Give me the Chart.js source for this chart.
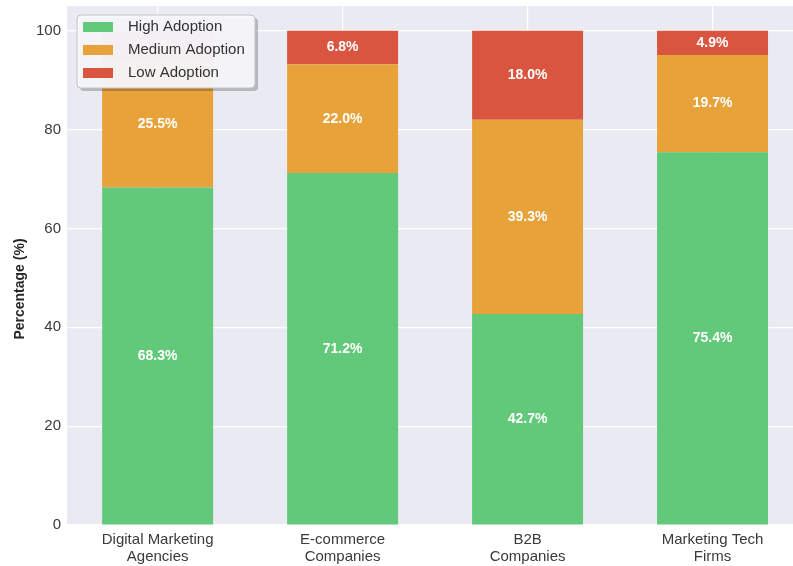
<!DOCTYPE html>
<html>
<head>
<meta charset="utf-8">
<script src="https://cdn.jsdelivr.net/npm/chart.js@4/dist/chart.umd.min.js"></script>
<style>
	html, body { margin: 0; padding: 0; background: #ffffff; }
	#wrap { width: 793px; height: 566px; position: relative; }
</style>
</head>
<body>
<div id="wrap"><canvas id="adoptionChart"></canvas></div>
<script>
const categories = [
	['Digital Marketing', 'Agencies'],
	['E-commerce', 'Companies'],
	['B2B', 'Companies'],
	['Marketing Tech', 'Firms']
];
const highAdoption = [68.3, 71.2, 42.7, 75.4];
const mediumAdoption = [25.5, 22.0, 39.3, 19.7];
const lowAdoption = [6.2, 6.8, 18.0, 4.9];
const yTicks = [0, 20, 40, 60, 80, 100];
const yTitle = 'Percentage (%)';

const FONT = '"Liberation Sans", Arial, sans-serif';

function toPoints(values) {
	return values.map((v, i) => ({x: i, y: v}));
}

// light lavender plot background
const bgPlugin = {
	id: 'plotBg',
	beforeDraw(chart) {
		const {ctx, chartArea} = chart;
		ctx.save();
		ctx.fillStyle = '#EAEAF2';
		ctx.fillRect(chartArea.left, chartArea.top, chartArea.right - chartArea.left, chartArea.bottom - chartArea.top);
		ctx.restore();
	}
};

// y axis title, sits a bit below the plot middle like the original
const axisTitle = {
	id: 'axisTitle',
	afterDraw(chart) {
		const ctx = chart.ctx;
		ctx.save();
		ctx.translate(20, 289);
		ctx.rotate(-Math.PI / 2);
		ctx.font = 'bold 14px ' + FONT;
		ctx.fillStyle = '#262626';
		ctx.textAlign = 'center';
		ctx.textBaseline = 'middle';
		ctx.fillText(yTitle, 0, 0);
		ctx.restore();
	}
};

// percentage text inside each segment
const valueLabels = {
	id: 'valueLabels',
	afterDatasetsDraw(chart) {
		const ctx = chart.ctx;
		ctx.save();
		ctx.font = 'bold 14px ' + FONT;
		ctx.fillStyle = '#ffffff';
		ctx.textAlign = 'center';
		ctx.textBaseline = 'middle';
		chart.data.datasets.forEach((ds, di) => {
			const meta = chart.getDatasetMeta(di);
			meta.data.forEach((bar, i) => {
				const v = ds.data[i].y;
				ctx.fillText(v.toFixed(1) + '%', bar.x, (bar.y + bar.base) / 2);
			});
		});
		ctx.restore();
	}
};

// legend box in the upper left corner, drawn over the bars
const boxLegend = {
	id: 'boxLegend',
	afterDraw(chart) {
		const ctx = chart.ctx;
		const x = 77, y = 15, w = 178, h = 73;
		ctx.save();
		ctx.fillStyle = 'rgba(0,0,0,0.22)';
		roundRect(ctx, x + 3, y + 3, w, h, 4);
		ctx.fill();
		ctx.fillStyle = 'rgba(247,247,250,0.96)';
		ctx.strokeStyle = '#c4c4c8';
		ctx.lineWidth = 1;
		roundRect(ctx, x, y, w, h, 4);
		ctx.fill();
		ctx.stroke();
		ctx.font = '15px ' + FONT;
		ctx.textBaseline = 'middle';
		chart.data.datasets.forEach((ds, i) => {
			const cy = y + 12 + i * 23;
			ctx.fillStyle = ds.backgroundColor;
			ctx.fillRect(x + 6, cy - 5, 30, 10);
			ctx.fillStyle = '#333333';
			ctx.fillText(ds.label, x + 51, cy);
		});
		ctx.restore();
	}
};

function roundRect(ctx, x, y, w, h, r) {
	ctx.beginPath();
	ctx.moveTo(x + r, y);
	ctx.lineTo(x + w - r, y);
	ctx.quadraticCurveTo(x + w, y, x + w, y + r);
	ctx.lineTo(x + w, y + h - r);
	ctx.quadraticCurveTo(x + w, y + h, x + w - r, y + h);
	ctx.lineTo(x + r, y + h);
	ctx.quadraticCurveTo(x, y + h, x, y + h - r);
	ctx.lineTo(x, y + r);
	ctx.quadraticCurveTo(x, y, x + r, y);
	ctx.closePath();
}

function renderChart() {
	const ctx = document.getElementById('adoptionChart');
	const common = {grouped: false, stack: 'adoption', categoryPercentage: 1, barPercentage: 0.6, borderWidth: 0};
	const data = {
		datasets: [
			Object.assign({label: 'High Adoption', data: toPoints(highAdoption), backgroundColor: '#63C97A'}, common),
			Object.assign({label: 'Medium Adoption', data: toPoints(mediumAdoption), backgroundColor: '#E8A23A'}, common),
			Object.assign({label: 'Low Adoption', data: toPoints(lowAdoption), backgroundColor: '#D9553F'}, common)
		]
	};
	const config = {
		type: 'bar',
		data: data,
		options: {
			responsive: true,
			maintainAspectRatio: false,
			animation: false,
			layout: {padding: {top: 6, left: 0, right: 0, bottom: 0}},
			plugins: {
				legend: {display: false},
				tooltip: {enabled: false}
			},
			scales: {
				x: {
					type: 'linear',
					offset: false,
					min: -0.49,
					max: 3.435,
					afterBuildTicks(scale) {
						scale.ticks = categories.map((c, i) => ({value: i}));
					},
					afterFit(scale) {
						scale.height = 41;
						scale.paddingLeft = 0;
						scale.paddingRight = 0;
					},
					border: {display: false},
					grid: {color: '#ffffff', lineWidth: 1.2, drawTicks: false, offset: false},
					ticks: {
						padding: 6,
						color: '#3a3a3a',
						font: {family: FONT, size: 15, lineHeight: 1.15},
						maxRotation: 0,
						callback: (v) => categories[v]
					}
				},
				y: {
					stacked: true,
					min: 0,
					max: 105,
					afterBuildTicks(scale) {
						scale.ticks = yTicks.map(v => ({value: v}));
					},
					afterFit(scale) {
						scale.width = 67;
						scale.paddingTop = 0;
						scale.paddingBottom = 0;
					},
					border: {display: false},
					grid: {color: '#ffffff', lineWidth: 1.2, drawTicks: false},
					ticks: {
						padding: 6,
						color: '#3a3a3a',
						font: {family: FONT, size: 15}
					}
				}
			}
		},
		plugins: [bgPlugin, valueLabels, boxLegend, axisTitle]
	};
	return new Chart(ctx, config);
}

renderChart();
</script>
</body>
</html>
